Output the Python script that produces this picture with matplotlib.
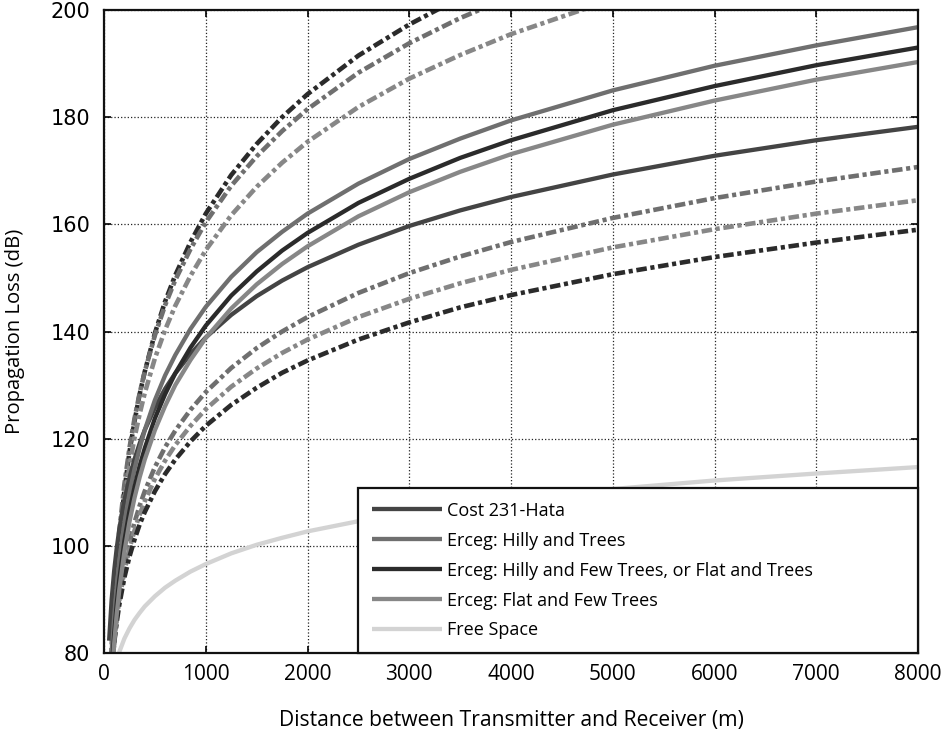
import numpy as np
import matplotlib
matplotlib.use("Agg")
from matplotlib import pyplot as plt

# distance samples (m)
dist = [50, 75, 100, 125, 150, 200, 250, 300, 350, 400, 500, 600, 700, 850,
        1000, 1250, 1500, 1750, 2000, 2500, 3000, 3500, 4000, 5000, 6000, 7000, 8000]

# solid curves (legend entries), dB
cost231 = [82.3, 90.0, 95.4, 99.6, 103.1, 108.5, 112.7, 116.2, 119.1, 121.6, 125.8,
           129.3, 132.2, 135.8, 138.9, 143.1, 146.6, 149.5, 152.0, 156.2, 159.7,
           162.6, 165.1, 169.3, 172.8, 175.7, 178.2]
erceg_hilly_trees = [69.4, 79.6, 86.8, 92.4, 97.0, 104.2, 109.8, 114.4, 118.2, 121.6,
                     127.2, 131.8, 135.6, 140.5, 144.6, 150.2, 154.8, 158.6, 162.0,
                     167.6, 172.2, 176.0, 179.4, 185.0, 189.6, 193.4, 196.8]
erceg_hilly_few = [66.3, 76.4, 83.6, 89.2, 93.7, 100.9, 106.5, 111.0, 114.9, 118.2,
                   123.8, 128.3, 132.2, 137.0, 141.1, 146.7, 151.2, 155.1, 158.4,
                   164.0, 168.5, 172.4, 175.7, 181.3, 185.8, 189.7, 193.0]
erceg_flat_few = [64.6, 74.7, 81.8, 87.3, 91.8, 98.9, 104.5, 109.0, 112.8, 116.1,
                  121.6, 126.1, 130.0, 134.7, 138.8, 144.3, 148.8, 152.6, 155.9,
                  161.5, 166.0, 169.8, 173.1, 178.6, 183.1, 187.0, 190.3]
free_space = [70.6, 74.1, 76.6, 78.6, 80.2, 82.7, 84.6, 86.2, 87.5, 88.7, 90.6,
              92.2, 93.5, 95.2, 96.6, 98.6, 100.2, 101.5, 102.7, 104.6, 106.2,
              107.5, 108.7, 110.6, 112.2, 113.5, 114.7]

# dash-dot curves (not in legend)
dash_top_dark = [65.7, 78.7, 88.0, 95.2, 101.0, 110.3, 117.5, 123.3, 128.3, 132.5,
                 139.7, 145.6, 150.5, 156.7, 162.0, 169.2, 175.0, 180.0, 184.3,
                 191.5, 197.3, 202.3, 206.5, 213.7, 219.6, 224.5, 228.8]
dash_top_mid = [69.3, 81.6, 90.4, 97.2, 102.7, 111.5, 118.3, 123.8, 128.5, 132.5,
                139.3, 144.9, 149.6, 155.4, 160.4, 167.2, 172.7, 177.4, 181.5,
                188.3, 193.8, 198.5, 202.5, 209.3, 214.9, 219.6, 223.6]
dash_top_light = [68.0, 79.8, 88.2, 94.7, 100.0, 108.4, 114.9, 120.2, 124.6, 128.5,
                  135.0, 140.3, 144.8, 150.4, 155.2, 161.7, 167.0, 171.5, 175.4,
                  181.9, 187.2, 191.6, 195.5, 202.0, 207.3, 211.8, 215.7]
dash_low_mid = [68.2, 76.4, 82.2, 86.7, 90.4, 96.2, 100.7, 104.4, 107.5, 110.2,
                114.7, 118.4, 121.5, 125.4, 128.7, 133.2, 136.9, 140.0, 142.7,
                147.2, 150.9, 154.0, 156.7, 161.2, 164.9, 168.0, 170.7]
dash_low_light = [69.3, 76.9, 82.3, 86.5, 89.9, 95.3, 99.5, 102.9, 105.8, 108.3,
                  112.5, 115.9, 118.8, 122.4, 125.5, 129.7, 133.1, 136.0, 138.5,
                  142.7, 146.1, 149.0, 151.5, 155.7, 159.1, 162.0, 164.5]
dash_low_dark = [69.7, 76.9, 81.9, 85.8, 89.0, 94.1, 98.0, 101.2, 104.0, 106.3,
                 110.2, 113.4, 116.1, 119.5, 122.4, 126.3, 129.5, 132.3, 134.6,
                 138.5, 141.7, 144.5, 146.8, 150.7, 153.9, 156.6, 159.0]

labels = ["Cost 231-Hata", "Erceg: Hilly and Trees",
          "Erceg: Hilly and Few Trees, or Flat and Trees",
          "Erceg: Flat and Few Trees", "Free Space"]

DARK, MID, LIGHT = "#2b2b2b", "#6f6f6f", "#878787"
SANS = ["Open Sans", "DejaVu Sans"]

fig = plt.figure(figsize=(9.51, 7.32), dpi=100)
ax = fig.add_axes([0.1094, 0.1079, 0.8559, 0.8784])

dd = (2.3, 0.8, 0.9, 0.8)
for vals, c in [(dash_top_dark, DARK), (dash_top_mid, MID), (dash_top_light, LIGHT),
                (dash_low_mid, MID), (dash_low_light, LIGHT), (dash_low_dark, DARK)]:
    ax.plot(dist, vals, color=c, lw=3.3, dashes=dd)

solid = [cost231, erceg_hilly_trees, erceg_hilly_few, erceg_flat_few, free_space]
colors = ["#444444", MID, DARK, LIGHT, "#d3d3d3"]
for vals, c, lab in zip(solid, colors, labels):
    ax.plot(dist, vals, color=c, lw=3.1, label=lab, solid_capstyle="butt")

ax.set_xlim(0, 8000)
ax.set_ylim(80, 200)
ax.set_xticks(range(0, 8001, 1000))
ax.set_yticks(range(80, 201, 20))
ax.grid(True, linestyle=":", color="#222222", lw=0.9)
ax.tick_params(direction="in", top=True, right=True, length=5, width=1.2)
ax.tick_params(axis="x", labelsize=15, pad=8)
ax.tick_params(axis="y", labelsize=15, pad=10)
for t in ax.get_xticklabels():
    t.set_family(SANS)
for s in ax.spines.values():
    s.set_linewidth(1.6)
    s.set_color("#111111")

ax.set_xlabel("Distance between Transmitter and Receiver (m)", fontsize=15.2,
              family=SANS, labelpad=18)
ax.set_ylabel("Propagation Loss (dB)", fontsize=14.6, family=SANS, labelpad=18)

leg = ax.legend(loc="lower left", bbox_to_anchor=(0.312, 0.0, 0.688, 0.26),
                mode="expand", borderaxespad=0, fancybox=False, framealpha=1,
                edgecolor="#111111", handlelength=3.9, handletextpad=0.3,
                labelspacing=0.66, borderpad=0.75,
                prop={"family": SANS, "size": 13})
leg.get_frame().set_linewidth(1.6)

fig.savefig("out.png", dpi=100)
